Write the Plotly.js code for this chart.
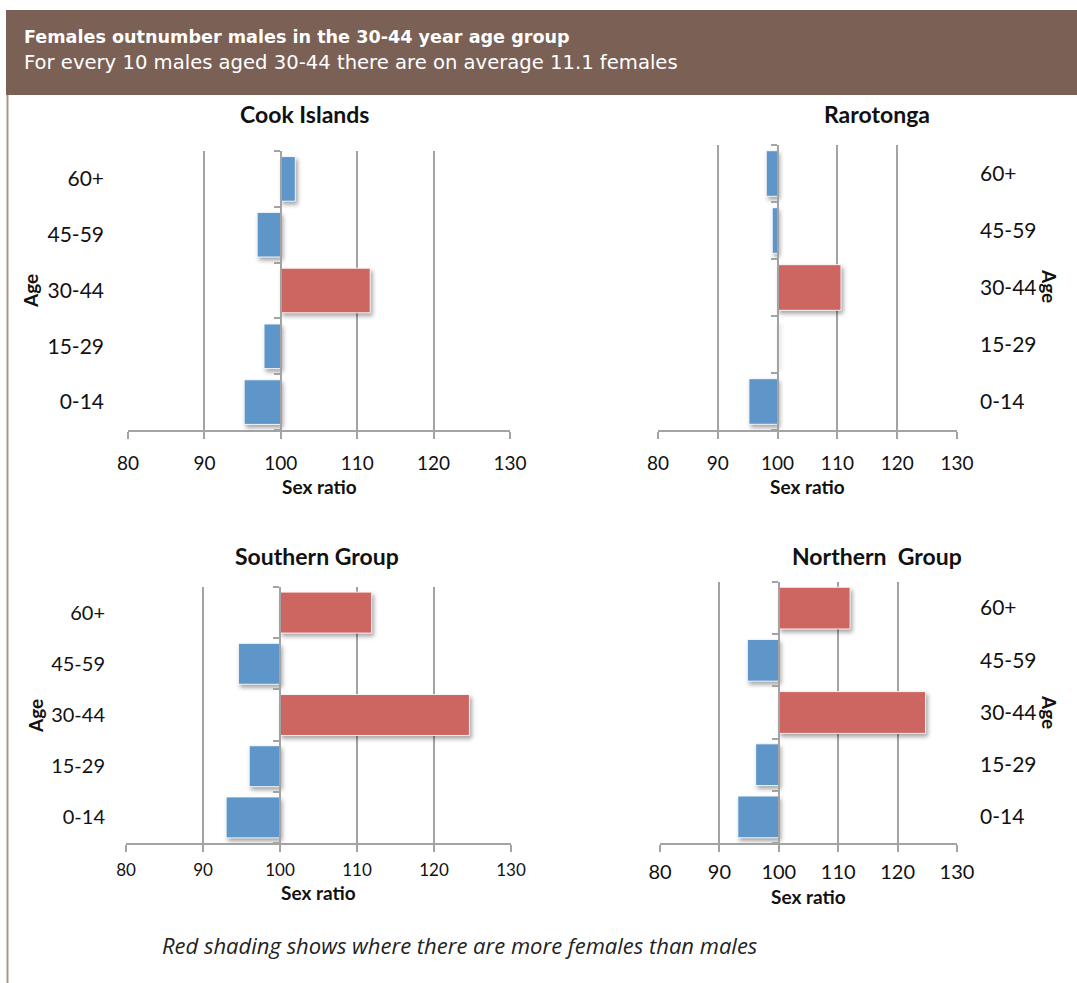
<!DOCTYPE html>
<html>
<head>
<meta charset="utf-8">
<script src="https://cdn.plot.ly/plotly-3.0.1.min.js"></script>
<style>
  html, body { margin: 0; padding: 0; background: #ffffff; }
  #chart { width: 1077px; height: 983px; }
  .barlayer .point path { filter: drop-shadow(2px 3px 2px rgba(0,0,0,0.35)); }
</style>
</head>
<body>
<div id="chart"></div>
<script>
// ---------------- data ----------------
const ages = ['0-14', '15-29', '30-44', '45-59', '60+'];
const cookIslands   = [95.2, 97.8, 111.7, 96.9, 101.9];
const rarotonga     = [95.2, 100.0, 110.6, 99.1, 98.1];
const southernGroup = [93.0, 96.0, 124.6, 94.6, 111.9];
const northernGroup = [93.1, 96.1, 124.7, 94.7, 112.0];
const xTicks = [80, 90, 100, 110, 120, 130];
const baseline = 100;
const panelTitles = ['Cook Islands', 'Rarotonga', 'Southern Group', 'Northern\u00a0 Group'];
const headerTitle = 'Females outnumber males in the 30-44 year age group';
const headerSubtitle = 'For every 10 males aged 30-44 there are on average 11.1 females';
const footnote = 'Red shading shows where there are more females than males';
const xTitle = 'Sex ratio';
const yTitle = 'Age';

// ---------------- layout helpers ----------------
const W = 1077, H = 983;
const px = v => v / W;
const py = v => 1 - v / H;
const RED = '#cd6560';
const BLUE = '#5f96ca';
const GRID = '#a3a3a3';
const AXFONT = 'Lato, "Open Sans", sans-serif';

// style per panel (which categories are shaded red, positions, font sizes)
const panels = [
  { vals: cookIslands,   shaded: ['30-44'],        x: [128, 510], y: [151, 430], side: 'left',
    tick: 19, lab: 21, tickStand: 8, labStand: 23, title: [304, 114], age: [30, 291, -90], sex: 487 },
  { vals: rarotonga,     shaded: ['30-44'],        x: [658, 957], y: [145, 430], side: 'right',
    tick: 19, lab: 21, tickStand: 8, labStand: 22, title: [877, 114], age: [1050, 286, 90], sex: 486 },
  { vals: southernGroup, shaded: ['30-44', '60+'], x: [126, 511], y: [587, 843], side: 'left',
    tick: 17, lab: 20, tickStand: 4, labStand: 20, title: [317, 556], age: [35, 716, -90], sex: 892 },
  { vals: northernGroup, shaded: ['30-44', '60+'], x: [660, 957], y: [582, 843], side: 'right',
    tick: 20, lab: 21, tickStand: 3, labStand: 22, title: [877, 556], age: [1050, 712, 90], sex: 896 }
];

const traces = [];
const layout = {
  width: W, height: H,
  margin: { l: 0, r: 0, t: 0, b: 0 },
  paper_bgcolor: '#ffffff', plot_bgcolor: 'rgba(0,0,0,0)',
  showlegend: false,
  shapes: [], annotations: []
};

const boundaries = ages.map((_, i) => i - 0.5).concat([ages.length - 0.5]);
const xMin = xTicks[0], xMax = xTicks[xTicks.length - 1];

panels.forEach((p, i) => {
  const n = i + 1;
  const xa = 'xaxis' + n, ya = 'yaxis' + n, yo = 'yaxis' + (n + 4);
  const xd = [px(p.x[0]), px(p.x[1])];
  const yd = [py(p.y[1]), py(p.y[0])];

  traces.push({
    type: 'bar', orientation: 'h',
    y: ages,
    x: p.vals.map(v => v - baseline),
    base: baseline,
    width: 0.8,
    marker: { color: ages.map(a => p.shaded.includes(a) ? RED : BLUE),
              line: { color: 'rgba(255,255,255,0.9)', width: 1 } },
    xaxis: 'x' + n, yaxis: 'y' + n,
    hovertemplate: '%{y}: %{customdata}<extra></extra>',
    customdata: p.vals
  });
  // invisible helper so the baseline axis (at 100) is drawn
  traces.push({
    type: 'scatter', mode: 'markers', x: [null], y: [null],
    xaxis: 'x' + n, yaxis: 'y' + (n + 4), hoverinfo: 'skip', showlegend: false
  });

  layout[xa] = {
    domain: xd, anchor: 'y' + n,
    range: [xMin, xMax], tickvals: xTicks, ticktext: xTicks.map(String),
    showgrid: true, gridcolor: GRID, gridwidth: 2,
    showline: true, linecolor: GRID, linewidth: 2,
    ticks: 'outside', ticklen: 7, tickwidth: 2, tickcolor: GRID,
    ticklabelstandoff: p.tickStand,
    tickfont: { family: AXFONT, size: p.tick, color: '#111' },
    zeroline: false, fixedrange: true
  };
  layout[ya] = {
    domain: yd, anchor: 'x' + n, side: p.side,
    type: 'category', categoryorder: 'array', categoryarray: ages,
    range: [-0.5, ages.length - 0.5],
    showgrid: false, showline: false, ticks: '', zeroline: false,
    ticklabelstandoff: p.labStand,
    tickfont: { family: AXFONT, size: p.lab, color: '#111' },
    fixedrange: true
  };
  layout[yo] = {
    overlaying: 'y' + n, anchor: 'free', side: 'left',
    position: xd[0] + (baseline - xMin) / (xMax - xMin) * (xd[1] - xd[0]),
    type: 'linear', range: [-0.5, ages.length - 0.5],
    tickvals: boundaries, showticklabels: false,
    ticks: 'outside', ticklen: 6, tickwidth: 2, tickcolor: GRID,
    showline: true, linecolor: GRID, linewidth: 2,
    showgrid: false, zeroline: false, fixedrange: true
  };

  layout.annotations.push({
    xref: 'paper', yref: 'paper', x: px(p.title[0]), y: py(p.title[1]),
    xanchor: 'center', yanchor: 'middle', showarrow: false,
    text: '<b>' + panelTitles[i] + '</b>',
    font: { family: AXFONT, size: 23, color: '#111' }
  });
  layout.annotations.push({
    xref: 'paper', yref: 'paper', x: px(p.age[0]), y: py(p.age[1]),
    xanchor: 'center', yanchor: 'middle', showarrow: false, textangle: p.age[2],
    text: '<b>' + yTitle + '</b>',
    font: { family: AXFONT, size: 19, color: '#111' }
  });
  layout.annotations.push({
    xref: 'paper', yref: 'paper', x: (xd[0] + xd[1]) / 2, y: py(p.sex),
    xanchor: 'center', yanchor: 'middle', showarrow: false,
    text: '<b>' + xTitle + '</b>',
    font: { family: AXFONT, size: 19, color: '#111' }
  });
});

// header band and left rule
layout.shapes.push({
  type: 'rect', xref: 'paper', yref: 'paper', layer: 'below',
  x0: px(6), x1: 1, y0: py(95), y1: py(10),
  fillcolor: '#7a6055', line: { width: 0 }
});
layout.shapes.push({
  type: 'line', xref: 'paper', yref: 'paper', layer: 'below',
  x0: px(7.5), x1: px(7.5), y0: 0, y1: py(95),
  line: { color: '#a8978f', width: 2 }
});
layout.annotations.push({
  xref: 'paper', yref: 'paper', x: px(22), y: py(37),
  xanchor: 'left', yanchor: 'middle', showarrow: false,
  text: '<b>' + headerTitle + '</b>',
  font: { family: '"DejaVu Sans", sans-serif', size: 17.6, color: '#ffffff' }
});
layout.annotations.push({
  xref: 'paper', yref: 'paper', x: px(22), y: py(62),
  xanchor: 'left', yanchor: 'middle', showarrow: false,
  text: headerSubtitle,
  font: { family: '"DejaVu Sans", sans-serif', size: 19.6, color: '#ffffff' }
});
layout.annotations.push({
  xref: 'paper', yref: 'paper', x: px(160), y: py(945),
  xanchor: 'left', yanchor: 'middle', showarrow: false,
  text: '<i>' + footnote + '</i>',
  font: { family: '"Open Sans", sans-serif', size: 22, color: '#222' }
});

Plotly.newPlot('chart', traces, layout, { displayModeBar: false, staticPlot: true });
</script>
</body>
</html>
